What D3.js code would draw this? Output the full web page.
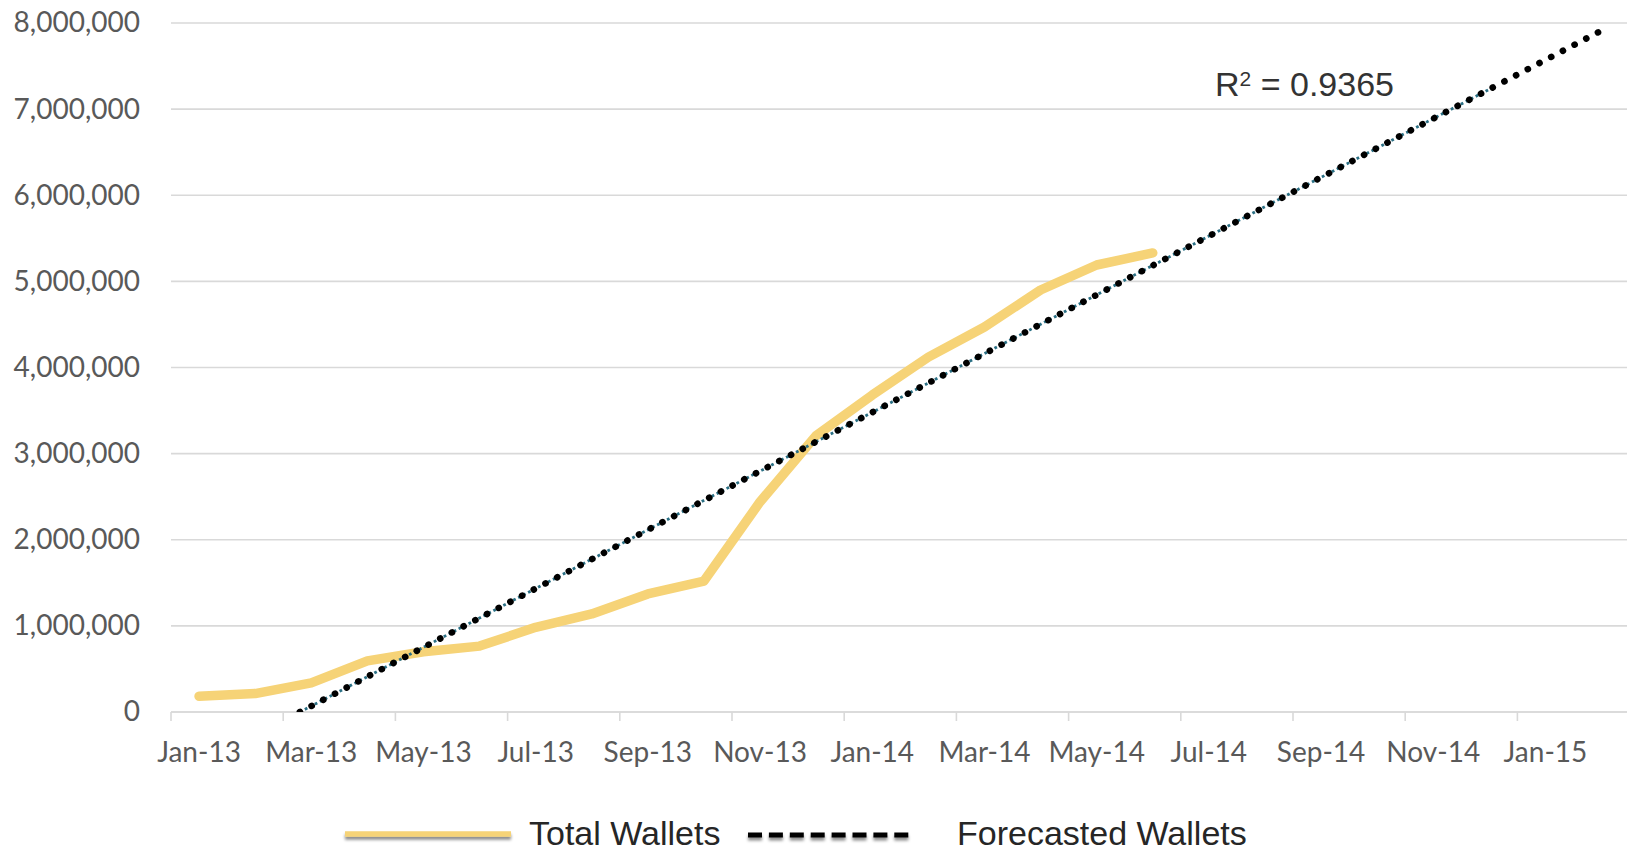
<!doctype html>
<html lang="en">
<head>
<meta charset="utf-8">
<style>
  body { margin: 0; background: #fff; }
  svg { display: block; }
  .ax text { font-family: Lato, "Open Sans", sans-serif; font-size: 28px; fill: #595959; }
  .lbl { font-family: "Liberation Sans", Arial, sans-serif; font-size: 34px; fill: #333; }
</style>
</head>
<body>
<script src="https://d3js.org/d3.v7.min.js"></script>
<script>
// months on the category axis (Jan-13 .. Feb-15)
var months = ["Jan-13","Feb-13","Mar-13","Apr-13","May-13","Jun-13","Jul-13","Aug-13","Sep-13","Oct-13","Nov-13","Dec-13",
              "Jan-14","Feb-14","Mar-14","Apr-14","May-14","Jun-14","Jul-14","Aug-14","Sep-14","Oct-14","Nov-14","Dec-14",
              "Jan-15","Feb-15"];
// total wallets, Jan-13 .. Jun-14
var wallets = [183000, 214000, 338000, 594000, 699000, 765000, 983000, 1138000, 1371000, 1520000,
               2440000, 3210000, 3680000, 4120000, 4470000, 4900000, 5190000, 5330000];
var yTicks = [0, 1000000, 2000000, 3000000, 4000000, 5000000, 6000000, 7000000, 8000000];
var rSquared = "0.9365";
var forecastAhead = 8;   // black dotted trend
var forecastAhead2 = 6;  // teal trend underneath

var width = 1627, height = 851;
var left = 171, bandW = 56.1, axisY = 712;

var svg = d3.select("body").append("svg")
    .attr("width", width)
    .attr("height", height);

var defs = svg.append("defs");
var f = defs.append("filter").attr("id", "shadow").attr("filterUnits", "userSpaceOnUse")
  .attr("x", 300).attr("y", 800).attr("width", 700).attr("height", 51);
f.append("feDropShadow").attr("dx", 0).attr("dy", 3).attr("stdDeviation", 1.8)
  .attr("flood-color", "#000").attr("flood-opacity", 0.45);
defs.append("clipPath").attr("id", "plot").append("rect")
  .attr("x", left).attr("y", 0).attr("width", width - left).attr("height", axisY);

var x = d3.scaleBand().domain(months).range([left, left + bandW * months.length]);
var y = d3.scaleLinear().domain([0, 8000000]).range([axisY, 23]);
var cx = function (i) { return x(months[i]) + x.bandwidth() / 2; };

// gridlines
svg.append("g").selectAll("line")
  .data(yTicks).enter().append("line")
  .attr("x1", left).attr("x2", width)
  .attr("y1", function (d) { return y(d); })
  .attr("y2", function (d) { return y(d); })
  .attr("stroke", "#d9d9d9").attr("stroke-width", 1.6);

// y labels
var yAxis = d3.axisLeft(y).tickValues(yTicks).tickFormat(d3.format(",")).tickSize(0).tickPadding(0);
svg.append("g").attr("class", "ax")
  .attr("transform", "translate(140,0)")
  .call(yAxis)
  .call(function (g) { g.select(".domain").remove(); });

// x axis: ticks every two months
var xg = svg.append("g").attr("class", "ax");
xg.append("line").attr("x1", left).attr("x2", width).attr("y1", axisY).attr("y2", axisY)
  .attr("stroke", "#d9d9d9").attr("stroke-width", 1.6);
var shown = months.filter(function (m, i) { return i % 2 == 0; });
xg.selectAll(".tk").data(shown).enter().append("line")
  .attr("x1", function (d) { return x(d); }).attr("x2", function (d) { return x(d); })
  .attr("y1", axisY).attr("y2", axisY + 9)
  .attr("stroke", "#d9d9d9").attr("stroke-width", 1.6);
xg.selectAll("text").data(shown).enter().append("text")
  .attr("x", function (d) { return x(d) + x.bandwidth() / 2; })
  .attr("y", 762)
  .attr("text-anchor", "middle")
  .text(function (d) { return d; });

// series
var line = d3.line().x(function (d, i) { return cx(i); }).y(function (d) { return y(d); });
svg.append("path").datum(wallets)
  .attr("d", line)
  .attr("fill", "none").attr("stroke", "#f6d377").attr("stroke-width", 9.5)
  .attr("stroke-linejoin", "round").attr("stroke-linecap", "round");

// linear trend
var mx = d3.mean(wallets, function (d, i) { return i; }), my = d3.mean(wallets);
var sxy = d3.sum(wallets, function (d, i) { return (i - mx) * (d - my); });
var sxx = d3.sum(wallets, function (d, i) { return (i - mx) * (i - mx); });
var slope = sxy / sxx, icept = my - slope * mx;
function trendPath(ahead) {
  var last = wallets.length - 1 + ahead;
  var x0 = -icept / slope; // start where trend crosses zero
  return "M" + (cx(0) + x0 * bandW) + "," + y(0) +
         "L" + cx(last) + "," + y(icept + slope * last);
}
var tr = svg.append("g").attr("clip-path", "url(#plot)");
tr.append("path").attr("d", trendPath(forecastAhead2))
  .attr("fill", "none").attr("stroke", "#2b7085").attr("stroke-width", 2.8)
  .attr("stroke-dasharray", "2.8 2.8");
tr.append("path").attr("d", trendPath(forecastAhead))
  .attr("fill", "none").attr("stroke", "#000").attr("stroke-width", 6.6)
  .attr("stroke-linecap", "round").attr("stroke-dasharray", "0.1 13.1");

// R squared
var rt = svg.append("text").attr("class", "lbl").attr("x", 1215).attr("y", 96);
rt.append("tspan").text("R");
rt.append("tspan").attr("dy", -10).style("font-size", "21px").text("2");
rt.append("tspan").attr("dy", 10).text(" = " + rSquared);

// legend
var lg = svg.append("g");
lg.append("line").attr("x1", 345).attr("x2", 511).attr("y1", 834).attr("y2", 834)
  .attr("stroke", "#f6d377").attr("stroke-width", 5.5).attr("filter", "url(#shadow)");
lg.append("text").attr("class", "lbl").attr("x", 529).attr("y", 845).style("fill", "#262626").text("Total Wallets");
lg.append("line").attr("x1", 748).attr("x2", 913).attr("y1", 835).attr("y2", 835)
  .attr("stroke", "#000").attr("stroke-width", 5).attr("stroke-dasharray", "14 6.9")
  .attr("filter", "url(#shadow)");
lg.append("text").attr("class", "lbl").attr("x", 957).attr("y", 845).style("fill", "#262626").text("Forecasted Wallets");
</script>
</body>
</html>
